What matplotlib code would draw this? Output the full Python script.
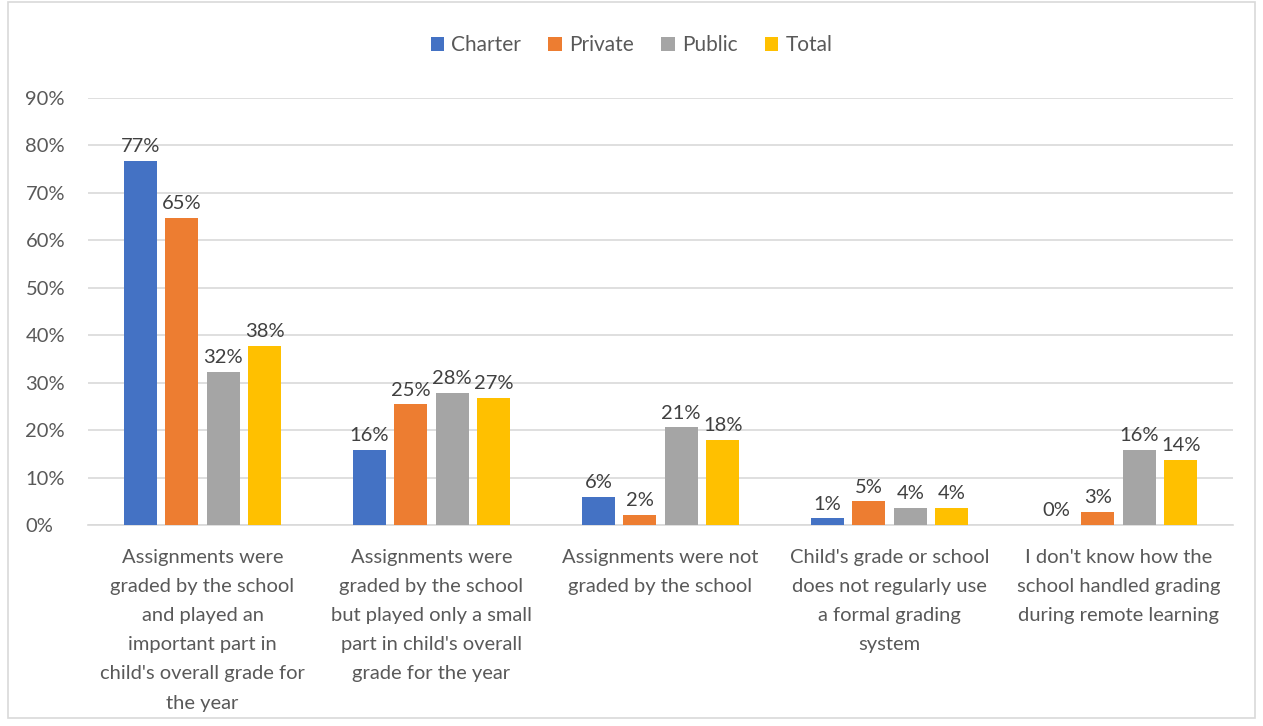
import numpy as np
import matplotlib.pyplot as plt
from matplotlib.patches import Rectangle

categories = [
    "Assignments were\ngraded by the school\nand played an\nimportant part in\nchild's overall grade for\nthe year",
    "Assignments were\ngraded by the school\nbut played only a small\npart in child's overall\ngrade for the year",
    "Assignments were not\ngraded by the school",
    "Child's grade or school\ndoes not regularly use\na formal grading\nsystem",
    "I don't know how the\nschool handled grading\nduring remote learning",
]
series = ["Charter", "Private", "Public", "Total"]
charter = [76.8, 15.9, 5.9, 1.4, 0.0]
private = [64.8, 25.4, 2.1, 5.0, 2.7]
public = [32.3, 27.8, 20.6, 3.6, 15.8]
total = [37.8, 26.8, 17.9, 3.6, 13.7]
yticks = [0, 10, 20, 30, 40, 50, 60, 70, 80, 90]

colors = ["#4472C4", "#ED7D31", "#A5A5A5", "#FFC000"]
plt.rcParams['font.family'] = ['Lato', 'DejaVu Sans']
fs = 14.5

fig = plt.figure(figsize=(12.63, 7.26), dpi=100)
fig.patches.append(Rectangle((8 / 1263, 8 / 726), 1247 / 1263, 716 / 726,
                             transform=fig.transFigure, fill=False,
                             edgecolor="#d9d9d9", linewidth=1.2))
ax = fig.add_axes([88 / 1263, 1 - 525 / 726, 1145 / 1263, 427 / 726])

x = np.arange(len(categories))
width = 0.144
step = 0.181
for i, (name, vals) in enumerate(zip(series, [charter, private, public, total])):
    pos = x + (i - 1.5) * step
    ax.bar(pos, vals, width, color=colors[i], label=name, zorder=3)
    for px, v in zip(pos, vals):
        ax.text(px, v + 1.2, f"{round(v):.0f}%", ha="center", va="bottom",
                fontsize=fs, color="#404040")

ax.set_xlim(-0.5, len(categories) - 0.5)
ax.set_ylim(0, 90)
ax.set_yticks(yticks)
ax.set_yticklabels([f"{t}%" for t in yticks], fontsize=fs, color="#595959")
ax.yaxis.grid(True, color="#d9d9d9", linewidth=1.2, zorder=0)
ax.tick_params(axis="y", length=0, pad=45)
ax.set_xticks(x)
ax.set_xticklabels(categories, fontsize=fs, color="#595959", linespacing=1.87, va="top")
ax.tick_params(axis="x", length=0, pad=17)
for side in ["top", "right", "left"]:
    ax.spines[side].set_visible(False)
ax.spines["bottom"].set_color("#d9d9d9")
ax.spines["bottom"].set_linewidth(1.2)
for lbl in ax.get_yticklabels():
    lbl.set_horizontalalignment("left")

ax.legend(loc="center", bbox_to_anchor=(0.5, (726 - 45) / 726), bbox_transform=fig.transFigure,
          ncol=4, frameon=False, fontsize=15, handlelength=0.65, handleheight=0.65,
          handletextpad=0.35, columnspacing=1.3, labelcolor="#595959")

fig.savefig("out.png", dpi=100)
